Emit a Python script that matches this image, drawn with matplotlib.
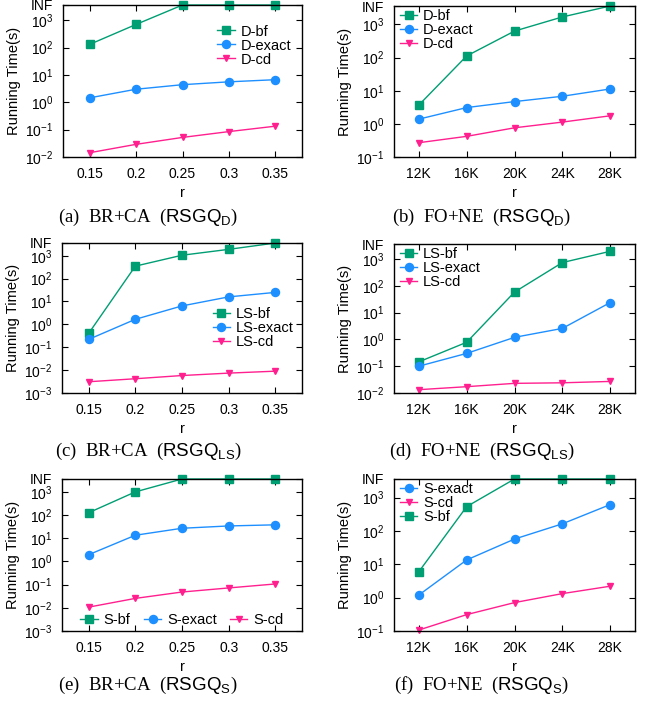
import matplotlib
matplotlib.use("Agg")
import matplotlib.pyplot as plt

plt.rcParams['font.family'] = ['Liberation Sans', 'DejaVu Sans']
plt.rcParams['mathtext.fontset'] = 'custom'
plt.rcParams['mathtext.sf'] = 'Liberation Sans'
plt.rcParams['mathtext.rm'] = 'Liberation Serif'

INF = 3600.0

r_vals = ["0.15", "0.2", "0.25", "0.3", "0.35"]
n_vals = ["12K", "16K", "20K", "24K", "28K"]

# (a) BR+CA, RSGQ_D
a_bf = [130, 700, INF, INF, INF]
a_exact = [1.45, 3.0, 4.4, 5.6, 6.7]
a_cd = [0.0143, 0.029, 0.052, 0.085, 0.134]

# (b) FO+NE, RSGQ_D
b_bf = [3.7, 112, 630, 1680, INF]
b_exact = [1.39, 3.1, 4.7, 6.8, 11.3]
b_cd = [0.27, 0.42, 0.76, 1.13, 1.75]

# (c) BR+CA, RSGQ_LS
c_bf = [0.4, 350, 1050, 1900, INF]
c_exact = [0.22, 1.66, 6.4, 15.9, 25]
c_cd = [0.0031, 0.0042, 0.0058, 0.0074, 0.009]

# (d) FO+NE, RSGQ_LS
d_bf = [0.145, 0.78, 58, 730, 1920]
d_exact = [0.1, 0.30, 1.19, 2.56, 23.5]
d_cd = [0.0133, 0.0172, 0.0229, 0.024, 0.027]

# (e) BR+CA, RSGQ_S
e_bf = [126, 1000, INF, INF, INF]
e_exact = [1.95, 13.5, 27, 34, 38]
e_cd = [0.0107, 0.0255, 0.048, 0.072, 0.107]

# (f) FO+NE, RSGQ_S
f_exact = [1.2, 13.5, 57, 163, 615]
f_cd = [0.107, 0.31, 0.71, 1.32, 2.2]
f_bf = [6.0, 535, INF, INF, INF]

GREEN = '#009E73'
BLUE = '#1E8FFF'
PINK = '#FF1F8E'

W, H = 645, 704
fig = plt.figure(figsize=(W / 100, H / 100), dpi=100)


def make_axes(left, right, top, bottom):
    return fig.add_axes([left / W, 1 - bottom / H, (right - left) / W, (bottom - top) / H])


def style(ax, xlabels, ymin_exp, xpad):
    ax.set_yscale('log')
    ax.set_ylim(10.0 ** ymin_exp, INF)
    ticks = [10.0 ** e for e in range(ymin_exp, 4)] + [INF]
    labels = [r"$\mathsf{10^{%d}}$" % e for e in range(ymin_exp, 4)] + ["INF"]
    ax.set_yticks(ticks)
    ax.set_yticklabels(labels)
    ax.minorticks_off()
    ax.set_xticks(range(len(xlabels)))
    ax.set_xticklabels(xlabels)
    ax.set_xlim(-xpad, len(xlabels) - 1 + xpad)
    ax.tick_params(direction='in', top=True, right=True, labelsize=10,
                   length=4, width=0.8, pad=7)
    for s in ax.spines.values():
        s.set_linewidth(1.0)
    ax.set_ylabel("Running Time(s)", fontsize=10.5, labelpad=3)
    ax.set_xlabel("r", fontsize=10.5, labelpad=4)


def draw(ax, name, key, ys):
    x = range(len(ys))
    if key == 'bf':
        ax.plot(x, ys, color=GREEN, lw=1.0, marker='s', ms=6, label=name, clip_on=False)
    elif key == 'exact':
        ax.plot(x, ys, color=BLUE, lw=1.0, marker='o', ms=5.8, label=name, clip_on=False)
    else:
        ax.plot(x, ys, color=PINK, lw=1.0, marker='v', ms=5, label=name, clip_on=False)


def legend(ax, **kw):
    opts = dict(frameon=False, fontsize=10.5, handlelength=1.2, handletextpad=0.4,
                labelspacing=0.0, borderpad=0.2, borderaxespad=0.2)
    opts.update(kw)
    ax.legend(**opts)


def caption(x, y, letter, data, sub):
    fig.text(x / W, 1 - y / H,
             "(%s)  %s  ($\\mathsf{RSGQ_{%s}}$)" % (letter, data, sub),
             family='Liberation Serif', fontsize=13.5, ha='center', va='center')


# row 1
ax = make_axes(63, 302, 5, 157)
draw(ax, "D-bf", 'bf', a_bf)
draw(ax, "D-exact", 'exact', a_exact)
draw(ax, "D-cd", 'cd', a_cd)
style(ax, r_vals, -2, 0.57)
legend(ax, loc='upper right', bbox_to_anchor=(0.98, 0.91))

ax = make_axes(394, 635, 6, 157)
draw(ax, "D-bf", 'bf', b_bf)
draw(ax, "D-exact", 'exact', b_exact)
draw(ax, "D-cd", 'cd', b_cd)
style(ax, n_vals, -1, 0.52)
legend(ax, loc='upper left', bbox_to_anchor=(0.0, 1.02))

# row 2
ax = make_axes(62, 302, 243, 393)
draw(ax, "LS-bf", 'bf', c_bf)
draw(ax, "LS-exact", 'exact', c_exact)
draw(ax, "LS-cd", 'cd', c_cd)
style(ax, r_vals, -3, 0.57)
legend(ax, loc='center right', bbox_to_anchor=(0.99, 0.43))

ax = make_axes(394, 635, 244, 393)
draw(ax, "LS-bf", 'bf', d_bf)
draw(ax, "LS-exact", 'exact', d_exact)
draw(ax, "LS-cd", 'cd', d_cd)
style(ax, n_vals, -2, 0.52)
legend(ax, loc='upper left', bbox_to_anchor=(0.0, 1.02))

# row 3
ax = make_axes(62, 302, 479, 631)
draw(ax, "S-bf", 'bf', e_bf)
draw(ax, "S-exact", 'exact', e_exact)
draw(ax, "S-cd", 'cd', e_cd)
style(ax, r_vals, -3, 0.57)
legend(ax, loc='lower center', bbox_to_anchor=(0.5, -0.01), ncol=3, columnspacing=0.9)

ax = make_axes(394, 635, 479, 631)
draw(ax, "S-exact", 'exact', f_exact)
draw(ax, "S-cd", 'cd', f_cd)
draw(ax, "S-bf", 'bf', f_bf)
style(ax, n_vals, -1, 0.52)
legend(ax, loc='upper left', bbox_to_anchor=(0.0, 1.02))

caption(148, 217, 'a', 'BR+CA', 'D')
caption(482, 217, 'b', 'FO+NE', 'D')
caption(148, 451, 'c', 'BR+CA', 'LS')
caption(482, 451, 'd', 'FO+NE', 'LS')
caption(148, 685, 'e', 'BR+CA', 'S')
caption(482, 685, 'f', 'FO+NE', 'S')

fig.savefig("out.png", dpi=100)
